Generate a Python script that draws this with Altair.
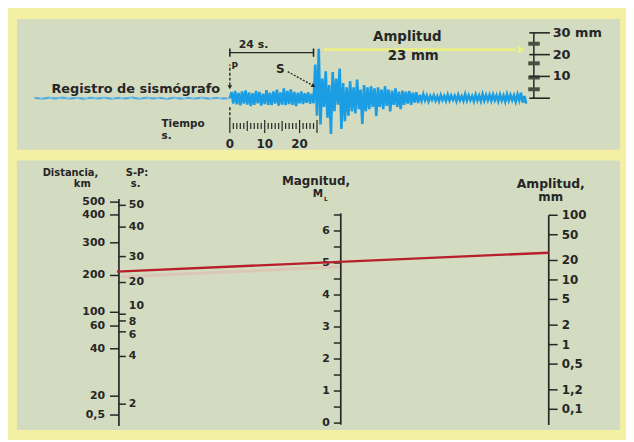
import math
import altair as alt
import pandas as pd

# ---------------- DATA ----------------
# Seismogram: time (s, relative to P arrival) and trace amplitude (mm)
pre_p_t = list(range(-56, 0, 2))
pre_p_mm = [0.2, -0.3, 0.3, -0.2, 0.4, -0.3, 0.2, -0.4, 0.3, -0.2,
            0.3, -0.3, 0.2, -0.2, 0.4, -0.3, 0.3, -0.2, 0.2, -0.4,
            0.3, -0.3, 0.2, -0.2, 0.3, -0.3, 0.2, -0.2]

trace_mm = [
    # P coda, 0 - 24 s
    0.0, 2.8, -2.4, 3.4, -2.8, 2.4, -3.3, 3.1, -2.5, 3.6,
    -2.9, 2.7, -3.6, 2.3, -3.0, 3.3, -2.3, 2.9, -3.4, 2.1,
    -2.7, 3.7, -3.0, 2.5, -3.2, 3.1, -2.5, 3.9, -3.4, 2.7,
    -2.9, 4.5, -3.2, 3.3, -2.7, 4.1, -3.0, 2.9, -3.6, 2.5,
    -2.3, 3.1, -2.7, 2.3, -2.1, 2.7, -2.5, 2.1, -2.3,
    # S phase, 24.5 - 40 s
    15.5, -8.0, 22.7, -12.0, 9.0, -4.0, 12.3, -9.0, 6.0, -16.4,
    12.0, -6.0, 9.0, -3.0, 13.6, -14.1, 7.0, -10.5, 5.0, -8.0,
    7.7, -6.0, 5.0, -7.0, 8.6, -5.0, 4.0, -11.8, 6.0, -6.0,
    5.0, -5.0,
    # decay, 40.5 - 54 s
    5.5, -4.0, 4.5, -8.2, 5.0, -4.0, 4.0, -5.0, 5.5, -3.5,
    4.0, -6.0, 3.5, -3.0, 4.5, -4.0, 3.0, -5.0, 3.5, -3.0,
    3.0, -2.5, 3.2, -3.0, 2.5, -2.0, 2.8, -2.2,
    # coda, 54.5 - 85 s
    1.5, -1.2, 1.8, -1.0, 1.2, -1.4, 1.0, -0.8, 1.3, -1.1,
    0.9, -1.3, 1.4, -0.9, 1.0, -1.2, 1.6, -1.0, 1.2, -0.8,
    1.1, -1.3, 1.5, -1.0, 0.9, -1.2, 1.8, -1.1, 1.3, -0.9,
    1.0, -1.4, 1.6, -1.0, 1.2, -1.3, 1.9, -1.1, 1.4, -1.0,
    1.5, -1.2, 1.7, -0.9, 1.3, -1.4, 1.6, -1.0, 1.2, -1.5,
    1.8, -1.1, 1.4, -0.9, 1.3, -1.6, 1.7, -1.0, 2.5, -2.0,
    1.0, -2.5,
]
trace_t = [i * 0.5 for i in range(len(trace_mm))]

ruler_t = list(range(0, 26))
time_labels = [0, 10, 20]
s_minus_p = 24          # s
amplitude_read = 23     # mm (peak)
amp_ruler_mm = [30, 20, 10]
amp_ruler_labels = ["30 mm", "20", "10"]

# Nomogram scales (positions on the common nomogram scale, magnitude units)
dist_labels = ["500", "400", "300", "200", "100", "60", "40", "20", "0,5"]
dist_pos = [6.90, 6.50, 5.63, 4.61, 3.46, 3.03, 2.32, 0.84, 0.25]
sp_labels = ["50", "40", "30", "20", "10", "8", "6", "4", "2"]
sp_pos = [6.80, 6.12, 5.20, 4.39, 3.40, 3.19, 2.85, 2.08, 0.59]
mag_ticks = [0, 0.5, 1, 1.5, 2, 2.5, 3, 3.5, 4, 4.5, 5, 5.5, 6, 6.5]
mag_labels = [0, 1, 2, 3, 4, 5, 6]
amp_values = [100, 50, 20, 10, 5, 2, 1, 0.5, 0.2, 0.1]
amp_labels = ["100", "50", "20", "10", "5", "2", "1", "0,5", "1,2", "0,1"]
red_line_pos = [4.73, 5.32]   # S-P 24 s  ->  amplitude 23 mm (M = 5)

# ---------------- STYLE / LAYOUT ----------------
FONT = "DejaVu Sans"
INK = "#262626"
PANEL = "#d3dbc1"
FRAME = "#f3efa3"
W, TOP_H, BOT_H = 609, 132, 272

TS = alt.Scale(domain=[-61.08, 111.93], nice=False, zero=False)
MS = alt.Scale(domain=[-23.64, 36.36], nice=False, zero=False)


def tx(f):
    return alt.X(f, type="quantitative", scale=TS, axis=None)


def ty(f):
    return alt.Y(f, type="quantitative", scale=MS, axis=None)


def ttext(labels, ts, ms, size, align="center", weight="bold", color=INK):
    df = pd.DataFrame({"label": labels, "t": ts, "mm": ms})
    return alt.Chart(df).mark_text(font=FONT, fontSize=size, fontWeight=weight,
                                   color=color, align=align, baseline="middle").encode(
        x=tx("t"), y=ty("mm"), text="label:N")


def trule(t1, t2, m1, m2, color=INK, width=1.5, dash=None):
    df = pd.DataFrame({"t1": t1, "t2": t2, "m1": m1, "m2": m2})
    kw = dict(color=color, strokeWidth=width)
    if dash:
        kw["strokeDash"] = dash
    return alt.Chart(df).mark_rule(**kw).encode(
        x=tx("t1"), x2="t2", y=ty("m1"), y2="m2")


def tpoint(t, m, shape, size, color=INK, angle=0):
    df = pd.DataFrame({"t": [t], "mm": [m]})
    return alt.Chart(df).mark_point(shape=shape, size=size, filled=True, opacity=1,
                                    color=color, angle=angle).encode(x=tx("t"), y=ty("mm"))


# ---------------- TOP PANEL: seismogram ----------------
df_pre = pd.DataFrame({"t": pre_p_t + [0], "mm": pre_p_mm + [0.0]})
pre_line = alt.Chart(df_pre).mark_line(color="#72c0ea", strokeWidth=2.2).encode(
    x=tx("t"), y=ty("mm"))
pre_dash = trule([-56], [0], [0], [0], color="#3d8fc6", width=0.9, dash=[5, 4])

df_tr = pd.DataFrame({"t": trace_t, "mm": trace_mm})
trace = alt.Chart(df_tr).mark_line(color="#1a9de3", strokeWidth=2.6).encode(
    x=tx("t"), y=ty("mm"))

# P marker
p_rule_top = trule([0], [0], [5.8], [15.5], width=1.4, dash=[3, 2])
p_head = tpoint(0, 5.0, "triangle-down", 22)
p_rule_bot = trule([0], [0], [-4.2], [-10.5], width=1.4, dash=[3, 2])
p_txt = ttext(["P"], [1.4], [14.8], 9)

# time ruler
r_long = {0, 10, 20, 25}
r_mid = {5, 15}
r_top = [-10.0 if t in r_long else (-10.5 if t in r_mid else -11.4) for t in ruler_t]
r_bot = [-16.0 if t in r_long else (-15.0 if t in r_mid else -14.1) for t in ruler_t]
ruler = trule(ruler_t, ruler_t, r_top, r_bot, width=1.2)
t_lab = ttext([str(v) for v in time_labels], time_labels, [-20.9] * 3, 12)
tiempo = ttext(["Tiempo"], [-19.6], [-12.0], 10.5, align="left")
tiempo_s = ttext(["s."], [-19.6], [-17.3], 10.5, align="left")

reg_txt = ttext(["Registro de sismógrafo"], [-2.8], [4.3], 13, align="right")

# 24 s bracket
br_h = trule([0], [s_minus_p], [20.9], [20.9], width=1.4)
br_caps = trule([0, s_minus_p], [0, s_minus_p], [19.0, 19.0], [22.8, 22.8], width=1.6)
br_txt = ttext([f"{s_minus_p} s."], [6.8], [24.6], 11)

# S marker
s_txt = ttext(["S"], [14.5], [13.4], 12)
s_arrow = trule([16.6], [23.3], [12.2], [6.3], width=1.3, dash=[2, 1.5])
s_head = tpoint(24.0, 5.6, "triangle-right", 22, angle=29)

# amplitude arrow and text
y_arrow = trule([27.0], [82.0], [22.3], [22.3], color="#ecef86", width=3)
y_head = tpoint(83.6, 22.3, "triangle-right", 70, color="#ecef86")
amp_t1 = ttext(["Amplitud"], [50.9], [28.2], 13.5)
amp_t2 = ttext([f"{amplitude_read} mm"], [52.6], [19.3], 13.5)

# mm ruler at right
mm_vert = trule([87.2], [87.2], [0], [30], width=1.5)
mm_blocks = trule([85.6] * 4, [88.9] * 4, [25.0, 16.0, 9.5, 4.1], [25.0, 16.0, 9.5, 4.1],
                  color="#4d4d42", width=4)
mm_ticks = trule([85.9] * 4, [91.8] * 4, [0, 10, 20, 30], [0, 10, 20, 30], width=1.6)
mm_lab = ttext(amp_ruler_labels, [92.6] * 3, amp_ruler_mm, 13, align="left")

top = alt.layer(
    pre_line, pre_dash, trace,
    p_rule_top, p_head, p_rule_bot, p_txt,
    ruler, t_lab, tiempo, tiempo_s, reg_txt,
    br_h, br_caps, br_txt, s_txt, s_arrow, s_head,
    y_arrow, y_head, amp_t1, amp_t2,
    mm_vert, mm_blocks, mm_ticks, mm_lab,
).properties(width=W, height=TOP_H)

# ---------------- BOTTOM PANEL: nomogram ----------------
XS = alt.Scale(domain=[17, 626], nice=False, zero=False)
PS = alt.Scale(domain=[-0.2165, 8.197], nice=False, zero=False)
X_LEFT, X_MID, X_RIGHT = 120, 344, 554


def bx(f):
    return alt.X(f, type="quantitative", scale=XS, axis=None)


def by(f):
    return alt.Y(f, type="quantitative", scale=PS, axis=None)


def brule(x1, x2, p1, p2, color=INK, width=1.5, opacity=1.0):
    df = pd.DataFrame({"x1": x1, "x2": x2, "p1": p1, "p2": p2})
    return alt.Chart(df).mark_rule(color=color, strokeWidth=width, opacity=opacity).encode(
        x=bx("x1"), x2="x2", y=by("p1"), y2="p2")


def btext(labels, xs, ps, size, align="center", weight="bold"):
    df = pd.DataFrame({"label": labels, "x": xs, "p": ps})
    return alt.Chart(df).mark_text(font=FONT, fontSize=size, fontWeight=weight, color=INK,
                                   align=align, baseline="middle").encode(
        x=bx("x"), y=by("p"), text="label:N")


amp_pos = [2.45 + 2.02 * math.log10(a) for a in amp_values]

axes = brule([X_LEFT, X_MID, X_RIGHT], [X_LEFT, X_MID, X_RIGHT],
             [-0.09, -0.05, -0.06], [7.0, 6.55, amp_pos[0]], width=1.7)

n = len(dist_pos)
d_ticks = brule([X_LEFT - 9] * n, [X_LEFT] * n, dist_pos, dist_pos, width=1.5)
d_lab = btext(dist_labels, [X_LEFT - 14] * n, dist_pos, 11, align="right")

m = len(sp_pos)
sp_ticks = brule([X_LEFT] * m, [X_LEFT + 7] * m, sp_pos, sp_pos, width=1.5)
sp_shift = {"10": 0.24, "8": -0.03, "6": -0.09}
sp_lab_pos = [p + sp_shift.get(lab, 0) for p, lab in zip(sp_pos, sp_labels)]
sp_lab = btext(sp_labels, [X_LEFT + 10] * m, sp_lab_pos, 11, align="left")

k = len(mag_ticks)
mg_ticks = brule([X_MID - 7] * k, [X_MID] * k, mag_ticks, mag_ticks, width=1.5)
mg_lab = btext([str(v) for v in mag_labels], [X_MID - 11] * len(mag_labels),
               mag_labels, 11, align="right")

j = len(amp_values)
am_ticks = brule([X_RIGHT] * j, [X_RIGHT + 9] * j, amp_pos, amp_pos, width=1.5)
am_lab = btext(amp_labels, [X_RIGHT + 13] * j, amp_pos, 12, align="left")

titles = alt.layer(
    btext(["Distancia,"], [43], [7.80], 10, align="left"),
    btext(["S-P:"], [127], [7.80], 10, align="left"),
    btext(["km"], [83], [7.46], 10),
    btext(["s."], [132], [7.46], 10, align="left"),
    btext(["Magnitud,"], [319], [7.55], 12),
    btext(["M"], [321], [7.14], 10.5),
    btext(["L"], [329], [7.00], 6),
    btext(["Amplitud,"], [556], [7.47], 12.5),
    btext(["mm"], [556], [7.07], 12),
)

red_halo = brule([X_LEFT + 2], [X_MID], [red_line_pos[0] - 0.16], [5.04 - 0.16],
                 color="#e6a9a6", width=3, opacity=0.4)
red_line = brule([X_LEFT - 2], [X_RIGHT], [red_line_pos[0]], [red_line_pos[1]],
                 color="#b81f2b", width=2.4)

bottom = alt.layer(
    red_halo, axes, d_ticks, d_lab, sp_ticks, sp_lab, mg_ticks, mg_lab,
    am_ticks, am_lab, titles, red_line,
).properties(width=W, height=BOT_H)

chart = alt.vconcat(top, bottom, spacing=11).properties(
    padding={"left": 9, "top": 9, "right": 6, "bottom": 8},
    background=FRAME,
).configure_view(fill=PANEL, strokeWidth=0)

chart.save("out.html", embed_options={"renderer": "svg", "actions": False})
